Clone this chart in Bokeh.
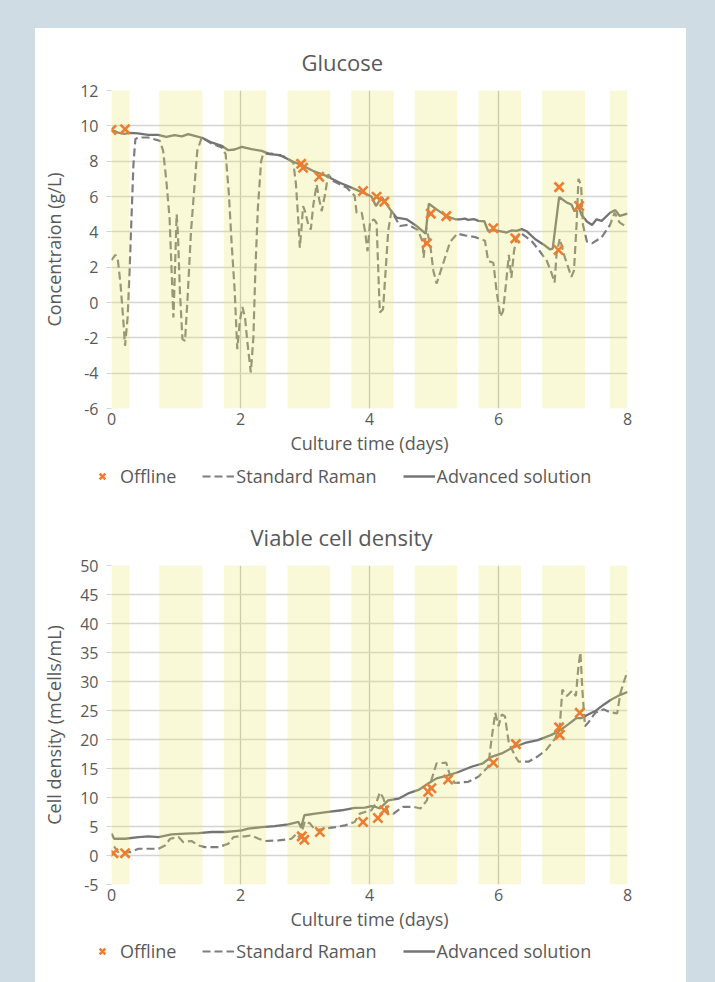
from bokeh.plotting import figure
from bokeh.models import Range1d, Legend, LegendItem, Spacer, FixedTicker
from bokeh.layouts import column, row
from bokeh.embed import file_html
from bokeh.resources import INLINE

# ---------------- data ----------------
band_start = [0.00, 0.74, 1.74, 2.73, 3.72, 4.70, 5.69, 6.68, 7.73]
band_end = [0.28, 1.41, 2.40, 3.39, 4.38, 5.36, 6.35, 7.34, 8.00]

x_ticks = [0, 2, 4, 6, 8]

# Glucose
glc_adv_t = [0.00, 0.05, 0.10, 0.20, 0.28, 0.41, 0.57, 0.72, 0.85, 0.98, 1.09, 1.19, 1.29, 1.42,
             1.55, 1.71, 1.81, 1.91, 2.02, 2.17, 2.33, 2.45, 2.61, 2.82, 2.95, 3.13, 3.34, 3.54,
             3.72, 3.96, 4.03, 4.10, 4.19, 4.32, 4.42, 4.58, 4.73, 4.87, 4.92, 5.04, 5.19, 5.33,
             5.40, 5.48, 5.53, 5.62, 5.69, 5.78, 5.84, 5.92, 6.00, 6.13, 6.20, 6.28, 6.36, 6.43,
             6.57, 6.69, 6.80, 6.84, 6.94, 7.06, 7.13, 7.18, 7.23, 7.29, 7.37, 7.45, 7.52, 7.60,
             7.73, 7.81, 7.88, 8.00]
glc_adv_v = [9.75, 9.70, 9.62, 9.55, 9.60, 9.57, 9.49, 9.49, 9.38, 9.47, 9.40, 9.53, 9.43, 9.30,
             9.06, 8.87, 8.62, 8.66, 8.81, 8.68, 8.58, 8.40, 8.34, 7.97, 7.77, 7.44, 7.15, 6.78,
             6.50, 6.12, 6.00, 5.46, 5.97, 5.27, 4.80, 4.70, 4.33, 3.90, 5.59, 5.27, 4.89, 4.71,
             4.70, 4.75, 4.68, 4.72, 4.62, 4.60, 4.05, 4.10, 4.05, 3.96, 4.08, 4.05, 4.15, 4.05,
             3.58, 3.30, 3.00, 3.05, 5.97, 5.65, 5.55, 5.15, 5.50, 4.95, 4.58, 4.39, 4.71, 4.62,
             5.08, 5.23, 4.90, 5.03]

glc_std_t = [0.00, 0.06, 0.10, 0.14, 0.18, 0.21, 0.25, 0.28, 0.31, 0.34, 0.37, 0.41, 0.57, 0.75,
             0.80, 0.85, 0.90, 0.93, 0.96, 0.98, 1.01, 1.03, 1.06, 1.10, 1.14, 1.18, 1.23, 1.28,
             1.33, 1.40, 1.55, 1.71, 1.77, 1.82, 1.86, 1.91, 1.95, 1.99, 2.03, 2.07, 2.11, 2.16,
             2.20, 2.23, 2.27, 2.32, 2.35, 2.48, 2.69, 2.82, 2.86, 2.90, 2.92, 2.95, 2.97, 3.00,
             3.05, 3.09, 3.13, 3.18, 3.22, 3.26, 3.31, 3.36, 3.44, 3.65, 3.77, 3.80, 3.88, 3.93,
             3.97, 4.01, 4.07, 4.11, 4.14, 4.16, 4.21, 4.25, 4.29, 4.34, 4.40, 4.47, 4.60, 4.75,
             4.82, 4.84, 4.88, 4.94, 4.99, 5.04, 5.15, 5.25, 5.36, 5.48, 5.64, 5.79, 5.84, 5.92,
             5.97, 6.03, 6.07, 6.12, 6.16, 6.20, 6.24, 6.28, 6.36, 6.52, 6.64, 6.75, 6.82, 6.87,
             6.90, 6.95, 7.03, 7.13, 7.17, 7.21, 7.24, 7.28, 7.31, 7.37, 7.45, 7.60, 7.73, 7.80,
             7.88, 8.00]
glc_std_v = [2.40, 2.70, 2.36, 1.04, -0.85, -2.45, -0.85, 1.80, 4.80, 7.80, 9.25, 9.34, 9.34, 9.15,
             8.60, 6.90, 4.80, 1.98, -0.85, 1.40, 5.00, 3.87, 0.66, -2.07, -2.17, 0.28, 3.87, 6.30,
             8.60, 9.34, 9.00, 8.77, 8.40, 6.13, 3.50, 0.66, -2.64, -1.04, -0.25, -0.85, -2.36, -3.96,
             -1.98, 1.79, 5.38, 8.00, 8.40, 8.43, 8.25, 7.90, 6.68, 4.42, 3.10, 4.40, 5.46, 5.17,
             4.42, 4.13, 5.55, 6.68, 5.84, 5.17, 6.11, 7.25, 6.87, 6.50, 6.03, 5.08, 5.08, 4.05,
             2.90, 4.60, 4.70, 4.50, 1.41, -0.56, -0.38, 1.79, 4.05, 5.17, 4.80, 4.33, 4.40, 4.10,
             3.48, 2.54, 4.23, 3.30, 1.80, 1.07, 2.30, 3.43, 3.90, 3.80, 3.70, 3.50, 2.35, 2.25,
             0.65, -0.80, -0.50, 1.20, 2.70, 1.40, 2.90, 3.66, 3.90, 3.45, 2.90, 2.35, 1.69, 1.13,
             2.73, 3.62, 2.54, 1.45, 1.80, 4.39, 7.00, 6.64, 4.39, 3.45, 3.35, 3.70, 4.39, 5.08,
             4.52, 4.24]

glc_off_t = [0.00, 0.21, 2.94, 2.97, 3.22, 3.90, 4.11, 4.23, 4.89, 4.95, 5.19, 5.92, 6.26, 6.93, 6.94, 7.25]
glc_off_v = [9.77, 9.81, 7.85, 7.63, 7.12, 6.31, 5.99, 5.71, 3.35, 5.03, 4.89, 4.20, 3.63, 2.97, 6.53, 5.46]

# Viable cell density
vcd_adv_t = [0.00, 0.04, 0.21, 0.42, 0.57, 0.73, 0.93, 1.14, 1.35, 1.55, 1.76, 1.91, 2.02, 2.12,
             2.33, 2.53, 2.74, 2.90, 2.94, 2.99, 3.16, 3.36, 3.57, 3.77, 3.93, 4.03, 4.09, 4.16,
             4.29, 4.45, 4.60, 4.76, 4.91, 5.04, 5.22, 5.38, 5.58, 5.76, 5.89, 6.05, 6.20, 6.41,
             6.61, 6.82, 6.93, 7.08, 7.21, 7.29, 7.39, 7.50, 7.63, 7.75, 7.89, 8.00]
vcd_adv_v = [3.80, 2.89, 2.89, 3.18, 3.30, 3.18, 3.64, 3.76, 3.87, 4.05, 4.05, 4.22, 4.34, 4.63,
             4.90, 5.08, 5.37, 5.78, 4.80, 6.94, 7.22, 7.51, 7.80, 8.20, 8.26, 8.50, 8.40, 8.10,
             9.50, 9.80, 10.7, 11.3, 12.4, 13.3, 13.8, 14.4, 15.3, 15.9, 17.0, 17.6, 18.5, 19.4,
             19.9, 20.8, 21.4, 22.6, 23.7, 23.7, 24.3, 24.9, 26.0, 26.9, 27.7, 28.2]

vcd_std_t = [0.04, 0.10, 0.29, 0.42, 0.73, 0.83, 0.91, 1.04, 1.11, 1.24, 1.35, 1.45, 1.66, 1.81,
             1.89, 1.97, 2.07, 2.17, 2.28, 2.38, 2.59, 2.79, 2.87, 2.92, 3.00, 3.08, 3.16, 3.31,
             3.47, 3.62, 3.77, 3.85, 3.93, 4.03, 4.11, 4.16, 4.21, 4.29, 4.37, 4.52, 4.68, 4.79,
             4.89, 4.96, 5.04, 5.19, 5.24, 5.32, 5.53, 5.69, 5.84, 5.89, 5.95, 6.00, 6.05, 6.10,
             6.16, 6.26, 6.31, 6.47, 6.61, 6.74, 6.88, 6.95, 6.99, 7.06, 7.14, 7.20, 7.24, 7.27,
             7.30, 7.34, 7.39, 7.50, 7.63, 7.73, 7.84, 7.89, 7.94, 8.00]
vcd_std_v = [1.56, 0.60, 0.58, 1.16, 1.16, 1.73, 2.89, 3.18, 2.31, 2.50, 1.73, 1.45, 1.45, 2.02,
             3.18, 3.30, 3.30, 3.47, 2.89, 2.50, 2.60, 2.89, 3.76, 3.00, 5.95, 5.50, 4.34, 4.63,
             4.90, 5.20, 5.78, 7.22, 7.51, 7.80, 9.20, 10.9, 10.0, 7.40, 7.20, 8.40, 8.40, 8.10,
             9.50, 13.0, 15.9, 16.0, 14.1, 12.5, 12.7, 13.6, 15.3, 19.9, 24.6, 22.3, 24.3, 24.0,
             19.4, 17.1, 16.2, 16.2, 17.1, 18.2, 20.2, 22.3, 28.6, 27.5, 28.4, 27.5, 32.7, 35.0,
             28.6, 22.3, 22.9, 24.6, 25.2, 24.7, 24.5, 28.0, 29.8, 31.8]

vcd_off_t = [0.03, 0.21, 2.95, 2.99, 3.23, 3.90, 4.13, 4.23, 4.91, 4.96, 5.22, 5.92, 6.27, 6.94, 6.95, 7.26]
vcd_off_v = [0.40, 0.40, 3.30, 2.70, 4.05, 5.78, 6.47, 7.80, 11.0, 11.6, 13.1, 16.0, 19.2, 22.1, 20.8, 24.6]

legend_labels = ["Offline", "Standard Raman", "Advanced solution"]

# ---------------- style ----------------
FONT = "Open Sans"
TXT = "#595959"
ORANGE = "#ED7D31"
SOLID = "#747474"
DASH = "#7e7e7e"
BAND = "#e8e860"
PAGE_BG = "#cfdce3"
W = 651


def add_series(p, std_t, std_v, adv_t, adv_v, off_t, off_v, bands=None):
    r_std = p.line(std_t, std_v, line_color=DASH, line_width=2.2, line_dash="8 4")
    r_adv = p.line(adv_t, adv_v, line_color=SOLID, line_width=2.3)
    if bands is not None:
        p.quad(left=band_start, right=band_end, bottom=bands[0], top=bands[1],
               fill_color=BAND, fill_alpha=0.25, line_color=None)
    r_off = p.scatter(off_t, off_v, marker="x", size=13, line_color=ORANGE, line_width=2.6)
    return r_off, r_std, r_adv


def unalign(p):
    if "frame_align" in p.properties():
        p.frame_align = False
        return True
    return False


def make_chart(title, title_offset, ylabel, ymin, ymax, ystep,
               adv_t, adv_v, std_t, std_v, off_t, off_v,
               height, top, bottom):
    p = figure(width=W, height=height,
               x_range=Range1d(0, 8), y_range=Range1d(ymin, ymax),
               output_backend="svg", toolbar_location=None,
               min_border_left=76, min_border_right=59,
               min_border_top=top, min_border_bottom=bottom)
    unalign(p)
    p.outline_line_color = None
    p.background_fill_color = "white"
    p.border_fill_color = "white"

    p.title.text = title
    p.title.align = "left"
    p.title.offset = title_offset
    p.title.text_font = FONT
    p.title.text_font_size = "22px"
    p.title.text_color = TXT
    p.title.text_font_style = "normal"
    p.title.standoff = 28

    yt = list(range(ymin, ymax + 1, ystep))
    p.xaxis.ticker = FixedTicker(ticks=x_ticks)
    p.yaxis.ticker = FixedTicker(ticks=yt)
    p.yaxis.major_label_overrides = {v: str(v) for v in yt}

    for ax in (p.xaxis[0], p.yaxis[0]):
        ax.axis_line_color = None
        ax.major_label_text_font = FONT
        ax.major_label_text_font_size = "16px"
        ax.major_label_text_color = TXT
        ax.axis_label_text_font = FONT
        ax.axis_label_text_font_size = "18px"
        ax.axis_label_text_color = TXT
        ax.axis_label_text_font_style = "normal"
        ax.minor_tick_line_color = None
        ax.major_tick_in = 0

    p.xaxis.axis_label = "Culture time (days)"
    p.xaxis.major_tick_line_color = None
    p.xaxis.major_tick_out = 0
    p.xaxis.major_label_standoff = 4
    p.xaxis.axis_label_standoff = 3

    p.yaxis.axis_label = ylabel
    p.yaxis.major_tick_line_color = "#d4d4d4"
    p.yaxis.major_tick_out = 5
    p.yaxis.major_label_standoff = 8
    p.yaxis.axis_label_standoff = 11

    p.xgrid.grid_line_color = "#c2c2c2"
    p.xgrid.grid_line_width = 1.3
    p.ygrid.grid_line_color = "#d4d4d4"
    p.ygrid.grid_line_width = 1.3

    add_series(p, std_t, std_v, adv_t, adv_v, off_t, off_v, bands=(ymin, ymax))
    return p


def make_legend(height, loc_y, std_t, std_v, adv_t, adv_v, off_t, off_v):
    # a strip holding only the legend; the series sit outside its (empty) view
    q = figure(width=W, height=height, x_range=Range1d(100, 101), y_range=Range1d(100, 101),
               output_backend="svg", toolbar_location=None,
               x_axis_location=None, y_axis_location=None,
               min_border=0, min_border_left=0, min_border_right=0,
               min_border_top=0, min_border_bottom=0)
    free = unalign(q)
    q.outline_line_color = None
    q.grid.visible = False
    q.background_fill_color = "white"
    q.border_fill_color = "white"
    r_off, r_std, r_adv = add_series(q, std_t, std_v, adv_t, adv_v, off_t, off_v)
    loc_x = 51 if free else 0
    legend = Legend(items=[LegendItem(label=legend_labels[0], renderers=[r_off]),
                           LegendItem(label=legend_labels[1], renderers=[r_std]),
                           LegendItem(label=legend_labels[2], renderers=[r_adv])],
                    orientation="horizontal", location=(loc_x, loc_y),
                    label_text_font=FONT, label_text_font_size="18px", label_text_color=TXT,
                    glyph_width=32, glyph_height=20, label_height=20,
                    label_standoff=2, spacing=26 if free else 22, padding=2, margin=0,
                    border_line_color=None, background_fill_alpha=0)
    q.add_layout(legend)
    return q


p1 = make_chart("Glucose", 190, "Concentraion (g/L)", -6, 12, 2,
                glc_adv_t, glc_adv_v, glc_std_t, glc_std_v, glc_off_t, glc_off_v,
                height=432, top=62, bottom=52)
l1 = make_legend(45, 17, glc_std_t, glc_std_v, glc_adv_t, glc_adv_v, glc_off_t, glc_off_v)
p2 = make_chart("Viable cell density", 139, "Cell density (mCells/mL)", -5, 50, 5,
                vcd_adv_t, vcd_adv_v, vcd_std_t, vcd_std_v, vcd_off_t, vcd_off_v,
                height=432, top=60, bottom=53)
l2 = make_legend(45, 19, vcd_std_t, vcd_std_v, vcd_adv_t, vcd_adv_v, vcd_off_t, vcd_off_v)

charts = column(p1, l1, p2, l2)
charts.styles = {"background-color": "white"}

layout = column(Spacer(height=28, width=10),
                row(Spacer(width=35, height=10), charts))

html = file_html(layout, INLINE, title="Glucose and viable cell density")
html = html.replace("<head>", "<head>\n<style>html, body { background-color: %s; }</style>" % PAGE_BG, 1)
open("out.html", "w").write(html)
